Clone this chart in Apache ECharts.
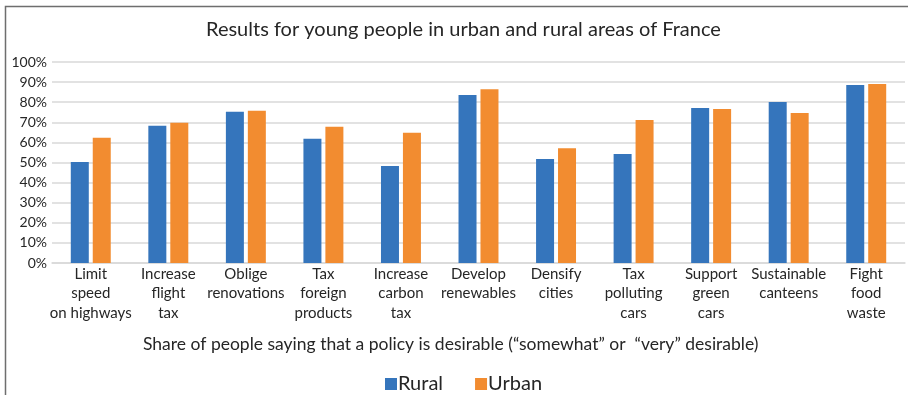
<!DOCTYPE html>
<html>
<head>
<meta charset="utf-8">
<style>
  html, body { margin: 0; padding: 0; background: #fff; }
  #chart { width: 908px; height: 395px; }
</style>
<script src="https://cdn.jsdelivr.net/npm/echarts@6/dist/echarts.min.js"></script>
</head>
<body>
<div id="chart"></div>
<script>
// Policy categories (line breaks as shown under the axis)
var categories = [
  'Limit\nspeed\non highways',
  'Increase\nflight\ntax',
  'Oblige\nrenovations',
  'Tax\nforeign\nproducts',
  'Increase\ncarbon\ntax',
  'Develop\nrenewables',
  'Densify\ncities',
  'Tax\npolluting\ncars',
  'Support\ngreen\ncars',
  'Sustainable\ncanteens',
  'Fight\nfood\nwaste'
];

// Share of respondents finding each policy desirable (%)
var rural = [50.3, 68.3, 75.3, 61.8, 48.3, 83.6, 51.7, 54.2, 77.1, 80.1, 88.5];
var urban = [62.3, 69.8, 75.8, 67.8, 64.8, 86.5, 57.1, 71.1, 76.6, 74.6, 89.0];

var seriesNames = ['Rural', 'Urban'];
var yTicks = { min: 0, max: 100, interval: 10 };

var FONT = 'Lato, "Open Sans", sans-serif';
var TEXT = '#262626';

var chart = echarts.init(document.getElementById('chart'), null, { renderer: 'canvas' });

chart.setOption({
  backgroundColor: '#ffffff',
  animation: false,
  textStyle: { fontFamily: FONT },
  title: {
    text: 'Results for young people in urban and rural areas of France',
    left: 201,
    top: 15,
    textStyle: { fontFamily: FONT, fontSize: 20, fontWeight: 'normal', color: TEXT }
  },
  legend: {
    data: seriesNames,
    top: 369,
    left: 380,
    icon: 'rect',
    itemWidth: 12,
    itemHeight: 12,
    itemGap: 32,
    textStyle: { fontFamily: FONT, fontSize: 20, color: TEXT, padding: [0, 0, 0, -4] }
  },
  grid: { left: 52, right: 3, top: 62, bottom: 132, containLabel: false },
  xAxis: {
    type: 'category',
    data: categories,
    axisTick: { show: false },
    axisLine: { show: true, lineStyle: { color: '#d9d9d9', width: 1.5 } },
    axisLabel: {
      interval: 0,
      margin: 1,
      fontFamily: FONT,
      fontSize: 15,
      lineHeight: 19.5,
      color: TEXT
    }
  },
  yAxis: {
    type: 'value',
    min: yTicks.min,
    max: yTicks.max,
    interval: yTicks.interval,
    axisLabel: {
      formatter: '{value}%',
      fontFamily: FONT,
      fontSize: 14,
      color: TEXT,
      margin: 5
    },
    axisLine: { show: false },
    axisTick: { show: false },
    splitLine: { lineStyle: { color: '#d9d9d9', width: 1.5 } }
  },
  series: [
    {
      name: seriesNames[0],
      type: 'bar',
      data: rural,
      barWidth: 18,
      barGap: '22%',
      itemStyle: { color: '#3575BC' }
    },
    {
      name: seriesNames[1],
      type: 'bar',
      data: urban,
      barWidth: 18,
      barGap: '22%',
      itemStyle: { color: '#F28C30' }
    }
  ],
  graphic: [
    {
      // axis caption under the category labels
      type: 'text',
      silent: true,
      left: 143,
      top: 335,
      style: {
        text: 'Share of people saying that a policy is desirable (\u201csomewhat\u201d or  \u201cvery\u201d desirable)',
        font: '17.5px ' + FONT,
        fill: TEXT
      }
    },
    {
      type: 'rect',
      silent: true,
      shape: { x: 5.5, y: 6.5, width: 920, height: 420 },
      style: { fill: 'none', stroke: '#6e6e6e', lineWidth: 1.5 },
      z: 100
    }
  ]
});
</script>
</body>
</html>
